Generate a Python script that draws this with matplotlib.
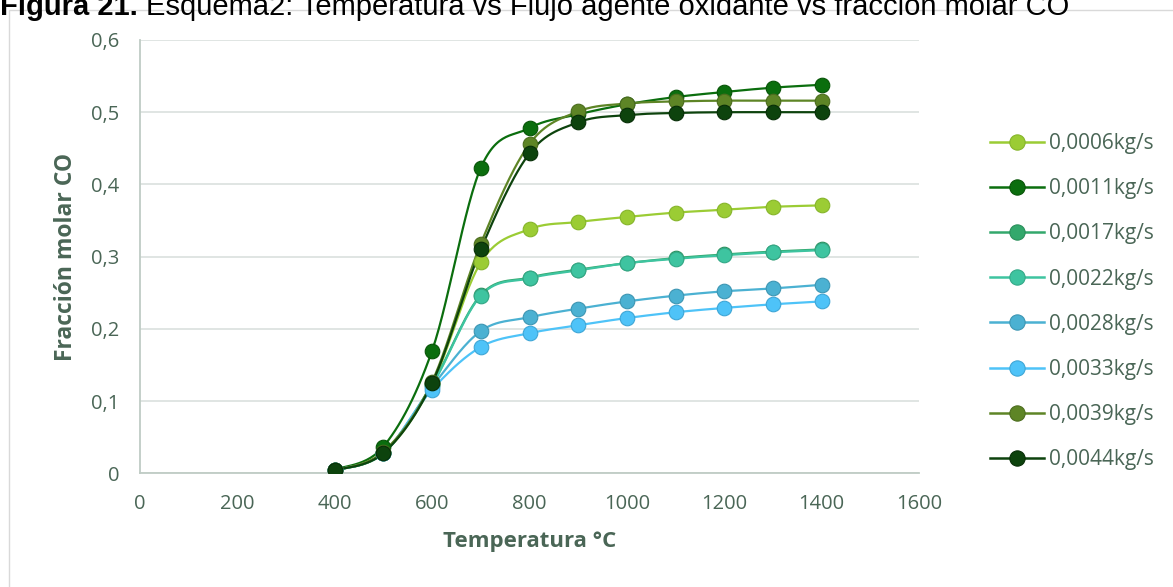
import numpy as np
import matplotlib
matplotlib.use("Agg")
import matplotlib.pyplot as plt
from matplotlib.lines import Line2D
from matplotlib.patches import Rectangle

# Temperature (°C) and CO mole fraction for each oxidant flow rate
temperatura = [400, 500, 600, 700, 800, 900, 1000, 1100, 1200, 1300, 1400]

flujos = ["0,0006kg/s", "0,0011kg/s", "0,0017kg/s", "0,0022kg/s",
          "0,0028kg/s", "0,0033kg/s", "0,0039kg/s", "0,0044kg/s"]

co_0006 = [0.004, 0.028, 0.124, 0.292, 0.338, 0.348, 0.355, 0.361, 0.365, 0.369, 0.371]
co_0011 = [0.005, 0.037, 0.170, 0.423, 0.478, 0.497, 0.511, 0.521, 0.528, 0.534, 0.538]
co_0017 = [0.004, 0.028, 0.123, 0.247, 0.271, 0.282, 0.291, 0.298, 0.303, 0.307, 0.310]
co_0022 = [0.004, 0.028, 0.122, 0.246, 0.270, 0.281, 0.291, 0.297, 0.302, 0.306, 0.309]
co_0028 = [0.004, 0.028, 0.120, 0.197, 0.216, 0.228, 0.238, 0.246, 0.252, 0.256, 0.261]
co_0033 = [0.004, 0.028, 0.116, 0.175, 0.194, 0.205, 0.215, 0.223, 0.229, 0.234, 0.238]
co_0039 = [0.004, 0.030, 0.127, 0.318, 0.456, 0.501, 0.512, 0.515, 0.516, 0.516, 0.516]
co_0044 = [0.004, 0.028, 0.125, 0.310, 0.443, 0.486, 0.496, 0.499, 0.500, 0.500, 0.500]

series = [co_0006, co_0011, co_0017, co_0022, co_0028, co_0033, co_0039, co_0044]
colores = ["#9BCC34", "#0B6E0E", "#33A86C", "#3EC4A0",
           "#4BB1D2", "#4EC3F8", "#5E8526", "#0D430D"]
bordes = ["#86B52A", "#075407", "#2A8F5B", "#34A988",
          "#3D96B3", "#3EA6D6", "#4C6D1E", "#072E07"]

texto = "#4A6656"
fuente = "Open Sans"
W, H = 1173, 587


def suavizar(x, y, n=30):
    """Excel-style smoothed line: cubic Bezier segments with Catmull-Rom tangents."""
    x = np.asarray(x, float)
    y = np.asarray(y, float)
    p = np.column_stack([x, y])
    pts = [p[0]]
    t = np.linspace(0, 1, n)[1:]
    for i in range(len(p) - 1):
        p0 = p[i - 1] if i > 0 else p[i]
        p1, p2 = p[i], p[i + 1]
        p3 = p[i + 2] if i + 2 < len(p) else p[i + 1]
        c1 = p1 + (p2 - p0) / 6.0
        c2 = p2 - (p3 - p1) / 6.0
        seg = ((1 - t)[:, None] ** 3 * p1 + 3 * ((1 - t) ** 2 * t)[:, None] * c1
               + 3 * ((1 - t) * t ** 2)[:, None] * c2 + (t ** 3)[:, None] * p2)
        pts.extend(seg)
    pts = np.array(pts)
    return pts[:, 0], pts[:, 1]


fig = plt.figure(figsize=(W / 100, H / 100), dpi=100)
fig.patch.set_facecolor("white")

# chart frame
fig.add_artist(Rectangle((9 / W, -0.1), 1.2, 1 - 10 / H + 0.1,
                         transform=fig.transFigure, fill=False,
                         edgecolor="#D9D9D9", linewidth=1.0))

# caption above the chart (bold prefix followed by regular text)
base_y = 1 - 15 / H
cap1 = fig.text(0.0, base_y, "Figura 21. ", fontsize=21, fontweight="bold",
                family="Liberation Sans", color="black", ha="left", va="baseline")
renderer = fig.canvas.get_renderer()
x_next = cap1.get_window_extent(renderer).x1 / W
fig.text(x_next, base_y,
         "Esquema2: Temperatura vs Flujo agente oxidante vs fracción molar CO",
         fontsize=21, family="Liberation Sans", color="black",
         ha="left", va="baseline")

ax = fig.add_axes([140 / W, 1 - 473.3 / H, (919 - 140) / W, (473.3 - 40) / H])

for vals, c, b in zip(series, colores, bordes):
    xs, ys = suavizar(temperatura, vals)
    ax.plot(xs, ys, color=c, lw=1.6, zorder=3, solid_capstyle="round")
    ax.plot(temperatura, vals, linestyle="none", marker="o", ms=10.5,
            markerfacecolor=c, markeredgecolor=b, markeredgewidth=0.8, zorder=4)

ax.set_xlim(0, 1600)
ax.set_ylim(0, 0.6)
ax.set_xticks(range(0, 1601, 200))
ax.set_yticks(np.arange(0, 0.61, 0.1))
ax.set_yticklabels(["0", "0,1", "0,2", "0,3", "0,4", "0,5", "0,6"])
ax.grid(axis="y", color="#DDE3E0", linewidth=1.3, zorder=0)
ax.set_axisbelow(True)

for s in ["top", "right"]:
    ax.spines[s].set_visible(False)
for s in ["left", "bottom"]:
    ax.spines[s].set_color("#BFCCC5")
    ax.spines[s].set_linewidth(1.3)

ax.tick_params(axis="both", length=0, labelsize=14.5, labelcolor=texto)
ax.tick_params(axis="x", pad=15)
ax.tick_params(axis="y", pad=15)
for lab in ax.get_xticklabels() + ax.get_yticklabels():
    lab.set_family(fuente)

ax.set_xlabel("Temperatura °C", fontsize=16, fontweight="bold", color=texto,
              family=fuente, labelpad=12)
ax.set_ylabel("Fracción molar CO", fontsize=16.5, fontweight="bold", color=texto,
              family=fuente, labelpad=9)

handles = [Line2D([], [], color=c, lw=1.8, marker="o", ms=11,
                  markerfacecolor=c, markeredgecolor=b, markeredgewidth=0.8)
           for c, b in zip(colores, bordes)]
leg = fig.legend(handles, flujos, loc="upper left",
                 bbox_to_anchor=(990 / W, 1 - 133 / H),
                 frameon=False, handlelength=2.6,
                 handletextpad=0.25, labelspacing=1.16, borderaxespad=0,
                 borderpad=0, prop={"family": fuente, "size": 15})
for t in leg.get_texts():
    t.set_color(texto)

fig.savefig("out.png", dpi=100, facecolor="white")
